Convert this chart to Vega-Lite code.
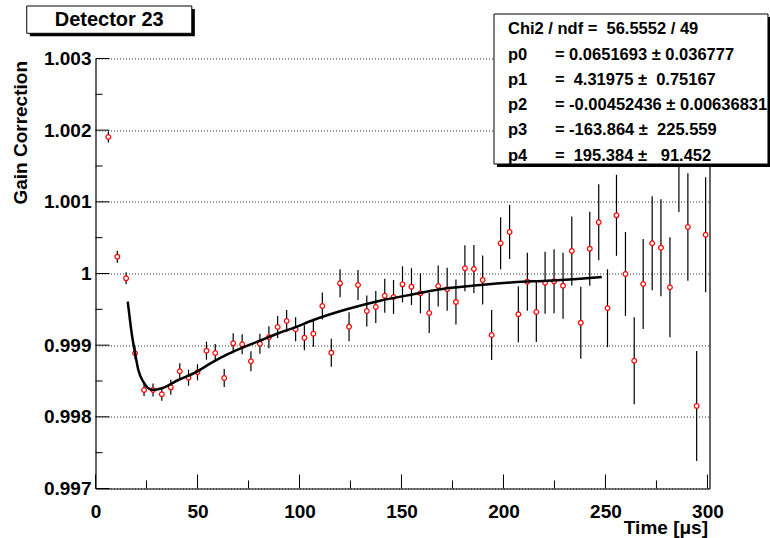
{
  "$schema": "https://vega.github.io/schema/vega-lite/v6.json",
  "width": 614,
  "height": 430,
  "autosize": {"type": "none"},
  "padding": {"left": 95.5, "top": 58.5, "right": 60.5, "bottom": 49.5},
  "background": "white",
  "config": {
    "view": {"stroke": null},
    "font": "Liberation Sans",
    "axis": {
      "labelFont": "Liberation Sans",
      "labelFontWeight": "bold",
      "labelFontSize": 19,
      "labelColor": "black",
      "domainColor": "black",
      "domainWidth": 1.2,
      "titleFont": "Liberation Sans",
      "titleFontWeight": "bold",
      "titleFontSize": 19,
      "titleColor": "black",
      "labelFlush": false,
      "labelOverlap": false,
      "grid": false,
      "ticks": false
    }
  },
  "datasets": {
    "pts": [
      {"t": 6.3, "g": 1.001905, "e": 0.000077},
      {"t": 10.7, "g": 1.000235, "e": 0.000084},
      {"t": 15.0, "g": 0.999933, "e": 0.000084},
      {"t": 19.4, "g": 0.998887, "e": 0.000084},
      {"t": 23.8, "g": 0.998375, "e": 0.000084},
      {"t": 28.2, "g": 0.998375, "e": 0.000091},
      {"t": 32.5, "g": 0.998315, "e": 0.000091},
      {"t": 36.9, "g": 0.998412, "e": 0.000105},
      {"t": 41.3, "g": 0.998636, "e": 0.000112},
      {"t": 45.6, "g": 0.998546, "e": 0.000112},
      {"t": 50.0, "g": 0.998622, "e": 0.000112},
      {"t": 54.4, "g": 0.998923, "e": 0.000126},
      {"t": 58.7, "g": 0.998891, "e": 0.000126},
      {"t": 63.1, "g": 0.998542, "e": 0.000126},
      {"t": 67.5, "g": 0.999026, "e": 0.00014},
      {"t": 71.9, "g": 0.999012, "e": 0.00014},
      {"t": 76.2, "g": 0.998775, "e": 0.00014},
      {"t": 80.6, "g": 0.999021, "e": 0.00014},
      {"t": 85.0, "g": 0.99911, "e": 0.000153},
      {"t": 89.3, "g": 0.999254, "e": 0.000153},
      {"t": 93.7, "g": 0.999337, "e": 0.000153},
      {"t": 98.1, "g": 0.999222, "e": 0.000167},
      {"t": 102.4, "g": 0.999104, "e": 0.000174},
      {"t": 106.8, "g": 0.99916, "e": 0.000181},
      {"t": 111.2, "g": 0.999547, "e": 0.000188},
      {"t": 115.6, "g": 0.998895, "e": 0.000195},
      {"t": 119.9, "g": 0.999863, "e": 0.000195},
      {"t": 124.3, "g": 0.999258, "e": 0.000202},
      {"t": 128.7, "g": 0.99984, "e": 0.000209},
      {"t": 133.0, "g": 0.999477, "e": 0.000216},
      {"t": 137.4, "g": 0.999533, "e": 0.000223},
      {"t": 141.8, "g": 0.99969, "e": 0.000237},
      {"t": 146.1, "g": 0.999672, "e": 0.000237},
      {"t": 150.5, "g": 0.999849, "e": 0.000251},
      {"t": 154.9, "g": 0.999816, "e": 0.000258},
      {"t": 159.3, "g": 0.999724, "e": 0.000279},
      {"t": 163.6, "g": 0.999449, "e": 0.000279},
      {"t": 168.0, "g": 0.999826, "e": 0.000286},
      {"t": 172.4, "g": 0.99978, "e": 0.0003},
      {"t": 176.7, "g": 0.999603, "e": 0.000314},
      {"t": 181.1, "g": 1.000073, "e": 0.000321},
      {"t": 185.5, "g": 1.000063, "e": 0.000335},
      {"t": 189.8, "g": 0.99991, "e": 0.000342},
      {"t": 194.2, "g": 0.999142, "e": 0.000349},
      {"t": 198.6, "g": 1.000422, "e": 0.000363},
      {"t": 203.0, "g": 1.000579, "e": 0.000377},
      {"t": 207.3, "g": 0.999431, "e": 0.000391},
      {"t": 211.7, "g": 0.999886, "e": 0.000405},
      {"t": 216.1, "g": 0.999463, "e": 0.000419},
      {"t": 220.4, "g": 0.999872, "e": 0.000433},
      {"t": 224.8, "g": 0.999891, "e": 0.000446},
      {"t": 229.2, "g": 0.99983, "e": 0.00046},
      {"t": 233.5, "g": 1.000314, "e": 0.000481},
      {"t": 237.9, "g": 0.999314, "e": 0.000502},
      {"t": 242.3, "g": 1.000346, "e": 0.000516},
      {"t": 246.7, "g": 1.000715, "e": 0.00053},
      {"t": 251.0, "g": 0.999515, "e": 0.000544},
      {"t": 255.4, "g": 1.000812, "e": 0.000565},
      {"t": 259.8, "g": 0.999993, "e": 0.000586},
      {"t": 264.1, "g": 0.998783, "e": 0.000607},
      {"t": 268.5, "g": 0.999854, "e": 0.000628},
      {"t": 272.9, "g": 1.000422, "e": 0.000656},
      {"t": 277.2, "g": 1.00036, "e": 0.000677},
      {"t": 281.6, "g": 0.999808, "e": 0.000698},
      {"t": 286.0, "g": 1.001612, "e": 0.000753},
      {"t": 290.4, "g": 1.000649, "e": 0.000749},
      {"t": 294.7, "g": 0.998151, "e": 0.000767},
      {"t": 299.1, "g": 1.000541, "e": 0.000802}
    ],
    "fit": [
      {"t": 15.8, "g": 0.999607},
      {"t": 16.9, "g": 0.999351},
      {"t": 17.75, "g": 0.999166},
      {"t": 19.4, "g": 0.998887},
      {"t": 21.0, "g": 0.998654},
      {"t": 23.4, "g": 0.99849},
      {"t": 25.9, "g": 0.998398},
      {"t": 28.3, "g": 0.998375},
      {"t": 32.5, "g": 0.998398},
      {"t": 40.6, "g": 0.998514},
      {"t": 48.8, "g": 0.998616},
      {"t": 57.0, "g": 0.998756},
      {"t": 65.1, "g": 0.998877},
      {"t": 73.3, "g": 0.998979},
      {"t": 81.5, "g": 0.999072},
      {"t": 89.6, "g": 0.999166},
      {"t": 97.8, "g": 0.999249},
      {"t": 106.8, "g": 0.999351},
      {"t": 123.2, "g": 0.999501},
      {"t": 139.5, "g": 0.999621},
      {"t": 155.8, "g": 0.99971},
      {"t": 172.2, "g": 0.999794},
      {"t": 188.6, "g": 0.99984},
      {"t": 204.9, "g": 0.999877},
      {"t": 221.3, "g": 0.9999},
      {"t": 237.6, "g": 0.999928},
      {"t": 248.2, "g": 0.999951}
    ],
    "xmajor": [{"v": 0}, {"v": 50}, {"v": 100}, {"v": 150}, {"v": 200}, {"v": 250}, {"v": 300}],
    "xminor": [{"v": 25}, {"v": 75}, {"v": 125}, {"v": 175}, {"v": 225}, {"v": 275}],
    "ymajor": [{"v": 0.997}, {"v": 0.998}, {"v": 0.999}, {"v": 1.0}, {"v": 1.001}, {"v": 1.002}, {"v": 1.003}],
    "yminor": [{"v": 0.9975}, {"v": 0.9985}, {"v": 0.9995}, {"v": 1.0005}, {"v": 1.0015}, {"v": 1.0025}]
  },
  "resolve": {"axis": {"x": "independent", "y": "independent"}},
  "layer": [
    {
      "data": {"name": "pts"},
      "mark": {"type": "errorbar", "ticks": false, "color": "black", "thickness": 1.2},
      "encoding": {
        "x": {"field": "t", "type": "quantitative", "scale": {"domain": [0, 301], "nice": false, "zero": false}, "axis": {
          "orient": "bottom", "values": [0, 50, 100, 150, 200, 250, 300], "domain": true, "ticks": false, "labelPadding": 14,
          "title": "Time [μs]", "titleX": 612, "titleY": 45, "titleAlign": "right", "titleBaseline": "alphabetic", "titleAnchor": null
        }},
        "y": {"field": "g", "type": "quantitative", "scale": {"domain": [0.997, 1.003], "nice": false, "zero": false}, "axis": {
          "orient": "left", "values": [0.997, 0.998, 0.999, 1, 1.001, 1.002, 1.003], "format": "~g", "domain": true, "ticks": false, "labelPadding": 4.5,
          "grid": true, "gridDash": [1, 2], "gridColor": "#000", "gridOpacity": 0.8, "gridWidth": 1,
          "title": "Gain Correction", "titleX": -75, "titleY": 2, "titleAngle": -90,
          "titleAlign": "right", "titleBaseline": "middle", "titleAnchor": null
        }},
        "yError": {"field": "e"}
      }
    },
    {
      "data": {"name": "xmajor"},
      "mark": {"type": "rule", "color": "black", "strokeWidth": 1},
      "encoding": {
        "x": {"field": "v", "type": "quantitative", "axis": null},
        "y": {"datum": 0.997, "type": "quantitative", "axis": null},
        "y2": {"datum": 0.99719535}
      }
    },
    {
      "data": {"name": "xminor"},
      "mark": {"type": "rule", "color": "black", "strokeWidth": 1},
      "encoding": {
        "x": {"field": "v", "type": "quantitative", "axis": null},
        "y": {"datum": 0.997, "type": "quantitative", "axis": null},
        "y2": {"datum": 0.99711163}
      }
    },
    {
      "data": {"name": "ymajor"},
      "mark": {"type": "rule", "color": "black", "strokeWidth": 1},
      "encoding": {
        "y": {"field": "v", "type": "quantitative", "axis": null},
        "x": {"datum": 0, "type": "quantitative", "axis": null},
        "x2": {"datum": 6.86}
      }
    },
    {
      "data": {"name": "yminor"},
      "mark": {"type": "rule", "color": "black", "strokeWidth": 1},
      "encoding": {
        "y": {"field": "v", "type": "quantitative", "axis": null},
        "x": {"datum": 0, "type": "quantitative", "axis": null},
        "x2": {"datum": 3.43}
      }
    },
    {
      "data": {"name": "pts"},
      "mark": {"type": "circle", "fill": "white", "stroke": "#ff0000", "strokeWidth": 1.2, "size": 22, "opacity": 1, "fillOpacity": 1},
      "encoding": {
        "x": {"field": "t", "type": "quantitative", "axis": null},
        "y": {"field": "g", "type": "quantitative", "axis": null}
      }
    },
    {
      "data": {"name": "fit"},
      "mark": {"type": "line", "color": "black", "strokeWidth": 2.5, "interpolate": "monotone"},
      "encoding": {
        "x": {"field": "t", "type": "quantitative", "axis": null},
        "y": {"field": "g", "type": "quantitative", "axis": null}
      }
    },
    {
      "data": {"values": [{}]},
      "mark": {"type": "rect", "fill": "black"},
      "encoding": {
        "x": {"datum": 196.82, "type": "quantitative", "axis": null},
        "x2": {"datum": 331.14},
        "y": {"datum": 1.0035791, "type": "quantitative", "axis": {
          "orient": "right", "labels": false, "ticks": false, "grid": false, "domain": true, "title": null
        }},
        "y2": {"datum": 1.0014861}
      }
    },
    {
      "data": {"values": [{}]},
      "mark": {"type": "rect", "fill": "white", "stroke": "black", "strokeWidth": 1},
      "encoding": {
        "x": {"datum": 195.35, "type": "quantitative", "axis": null},
        "x2": {"datum": 329.67},
        "y": {"datum": 1.0036209, "type": "quantitative", "axis": null},
        "y2": {"datum": 1.0015279}
      }
    },
    {
      "data": {"values": [{}]},
      "mark": {"type": "text", "align": "left", "baseline": "middle", "fontSize": 16.5, "fontWeight": "bold", "font": "Liberation Sans", "lineHeight": 25.26, "color": "black"},
      "encoding": {
        "x": {"datum": 202.2, "type": "quantitative", "axis": null},
        "y": {"datum": 1.0034074, "type": "quantitative", "axis": null},
        "text": {"value": ["Chi2 / ndf = \u00a056.5552 / 49", "p0", "p1", "p2", "p3", "p4"]}
      }
    },
    {
      "data": {"values": [{}]},
      "mark": {"type": "text", "align": "left", "baseline": "middle", "fontSize": 16.5, "fontWeight": "bold", "font": "Liberation Sans", "lineHeight": 25.26, "color": "black"},
      "encoding": {
        "x": {"datum": 225.2, "type": "quantitative", "axis": null},
        "y": {"datum": 1.0034074, "type": "quantitative", "axis": null},
        "text": {"value": ["", "= 0.0651693 ± 0.036777", "= \u00a04.31975 ± \u00a00.75167", "= -0.00452436 ± 0.00636831", "= -163.864 ± \u00a0225.559", "= \u00a0195.384 ± \u00a0\u00a091.452"]}
      }
    },
    {
      "data": {"values": [{}]},
      "mark": {"type": "rect", "fill": "black"},
      "encoding": {
        "x": {"datum": -32.2, "type": "quantitative", "axis": null},
        "x2": {"datum": 48.7},
        "y": {"datum": 1.0036907, "type": "quantitative", "axis": null},
        "y2": {"datum": 1.0033097}
      }
    },
    {
      "data": {"values": [{}]},
      "mark": {"type": "rect", "fill": "white", "stroke": "black", "strokeWidth": 1},
      "encoding": {
        "x": {"datum": -33.7, "type": "quantitative", "axis": null},
        "x2": {"datum": 47.2},
        "y": {"datum": 1.0037326, "type": "quantitative", "axis": null},
        "y2": {"datum": 1.0033516}
      }
    },
    {
      "data": {"values": [{}]},
      "mark": {"type": "text", "align": "center", "baseline": "middle", "fontSize": 20, "fontWeight": "bold", "font": "Liberation Sans", "color": "black"},
      "encoding": {
        "x": {"datum": 6.7, "type": "quantitative", "axis": null},
        "y": {"datum": 1.0035414, "type": "quantitative", "axis": null},
        "text": {"value": "Detector 23"}
      }
    }
  ]
}
